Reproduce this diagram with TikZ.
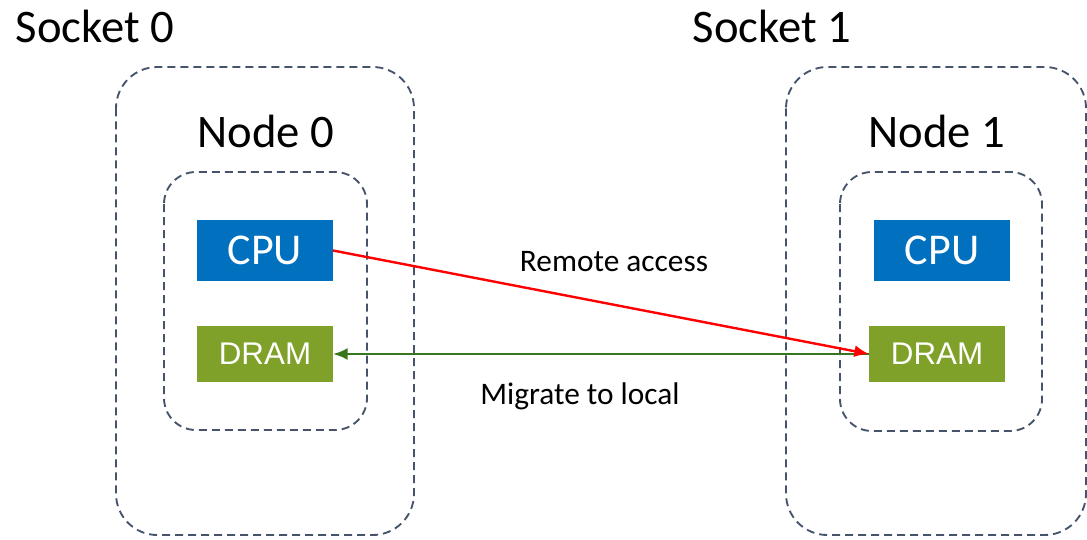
\documentclass[tikz,border=0pt]{standalone}
\usepackage{fontspec}
\setmainfont{Carlito}
\newfontfamily\arialfont{Liberation Sans}
\usetikzlibrary{positioning,arrows.meta}
\definecolor{cpuclr}{rgb}{0, 0.44, 0.75}
\definecolor{dramclr}{rgb}{0.5, 0.63, 0.16}
\definecolor{boxclr}{rgb}{0.27, 0.33, 0.42}
\definecolor{remoteclr}{rgb}{1, 0, 0}
\definecolor{migclr}{rgb}{0.22, 0.46, 0.11}
\tikzset{ %
  ,>={Latex[length=11pt,width=9pt]}
  ,every node/.style={inner sep=0, outer sep=0}
  ,cpu/.style={fill=cpuclr, text=white, minimum width=102pt, minimum height=45.75pt, font=\fontsize{33}{33}\selectfont}
  ,dram/.style={fill=dramclr, text=white, minimum width=102pt, minimum height=42pt, font=\arialfont\fontsize{23.5}{23.5}\selectfont}
  ,region/.style={draw=boxclr, line width=1.4pt, dash pattern=on 6pt off 3.75pt}
  ,hdr/.style={anchor=base, font=\fontsize{35}{35}\selectfont}
  ,note/.style={anchor=base, font=\fontsize{23.5}{23.5}\selectfont}
}
\begin{document}
\begin{tikzpicture}[x=0.75pt, y=-0.75pt]
      \useasboundingbox (0,0) rectangle (1087,539);
      % sockets and numa nodes
      \draw[region, rounded corners=31pt] (116,67) rectangle (414,535);
      \draw[region, rounded corners=31pt] (786,67) rectangle (1086,535);
      \draw[region, rounded corners=24pt] (164,172) rectangle (367,430);
      \draw[region, rounded corners=24pt] (840,172) rectangle (1042,431);
      \draw
      node[hdr] (sock0) at (95,42) {Socket 0}
      node[hdr] (sock1) at (772,42) {Socket 1}
      node[hdr] (numa0) at (266,147) {Node 0}
      node[hdr] (numa1) at (937,147) {Node 1}
      node[cpu] (cpu0) at (265,250.5) {CPU}
      node[dram, below=33.75pt of cpu0] (dram0) {DRAM}
      node[cpu] (cpu1) at (942,250.5) {CPU}
      node[dram] (dram1) at (937,354) {DRAM}
      node[note] (remote) at (614,271) {Remote access}
      node[note] (migrate) at (580,404) {Migrate to local};
      \draw [migclr, line width=1.8pt, ->] (dram1.west) -- (dram0.east);
      \draw [remoteclr, line width=1.8pt, ->] (cpu0.east) -- (dram1.west);
    \end{tikzpicture}
\end{document}
